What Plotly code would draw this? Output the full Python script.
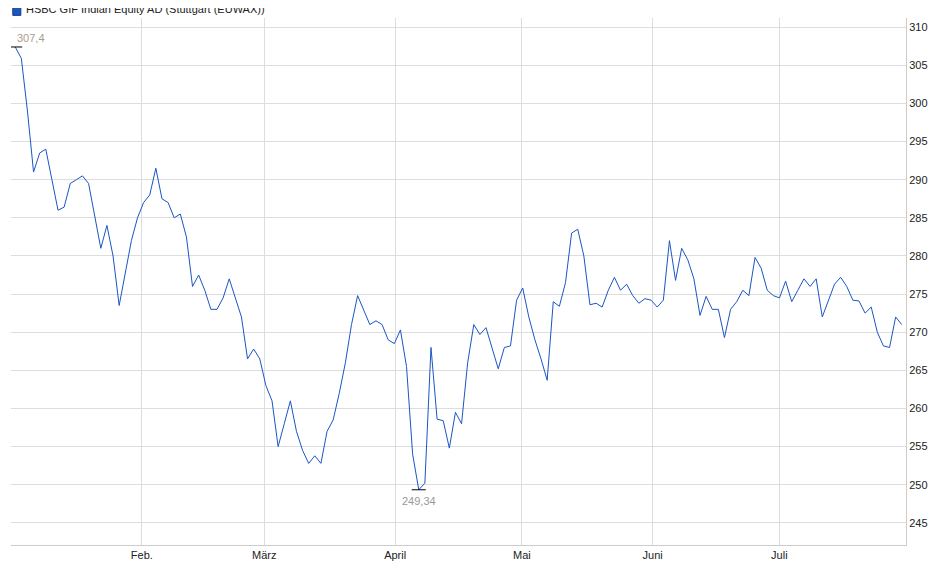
import pandas as pd
import plotly.graph_objects as go

prices = [
    307.4, 305.9, 299.0, 291.0, 293.5, 294.0, 290.0, 286.0, 286.4, 289.5,
    290.0, 290.5, 289.5, 285.0, 281.0, 284.0, 280.0, 273.5, 278.0, 282.0,
    285.0, 287.0, 288.0, 291.5, 287.5, 287.0, 285.0, 285.5, 282.5, 276.0,
    277.5, 275.5, 273.0, 273.0, 274.5, 277.0, 274.5, 272.0, 266.5, 267.8,
    266.5, 263.0, 261.0, 255.0, 258.0, 261.0, 257.0, 254.5, 252.8, 253.8,
    252.8, 257.0, 258.5, 262.0, 266.0, 271.0, 274.8, 273.0, 271.0, 271.5,
    271.0, 269.0, 268.5, 270.3, 265.5, 254.0, 249.34, 250.2, 268.0, 258.6,
    258.4, 254.8, 259.5, 258.0, 266.0, 271.0, 269.7, 270.6, 268.0, 265.2,
    268.0, 268.2, 274.2, 275.8, 272.0, 269.0, 266.5, 263.7, 274.0, 273.4,
    276.5, 283.0, 283.5, 280.0, 273.6, 273.8, 273.3, 275.5, 277.2, 275.5,
    276.3, 274.8, 273.8, 274.4, 274.2, 273.3, 274.2, 282.0, 276.8, 281.0,
    279.5, 277.0, 272.2, 274.7, 273.0, 273.0, 269.3, 273.0, 274.0, 275.5,
    274.8, 279.8, 278.4, 275.5, 274.8, 274.5, 276.7, 274.0, 275.5, 277.0,
    276.0, 277.0, 272.0, 274.2, 276.3, 277.2, 276.0, 274.2, 274.1, 272.5,
    273.3, 270.0, 268.2, 268.0, 272.0, 271.0,
]
# trading days, drawn evenly spaced over the period
dates = pd.date_range("2024-01-02", "2024-07-30", periods=len(prices))
tick_dates = ["2024-02-01", "2024-03-01", "2024-04-01", "2024-05-01", "2024-06-01", "2024-07-01"]
tick_labels = ["Feb.", "März", "April", "Mai", "Juni", "Juli"]
title = "HSBC GIF Indian Equity AD (Stuttgart (EUWAX))"

s = pd.Series(prices, index=dates)
hi_d, lo_d = s.idxmax(), s.idxmin()

fig = go.Figure()
fig.add_trace(go.Scatter(x=dates, y=prices, mode="lines",
                         line=dict(color="#1a56c4", width=1), hoverinfo="x+y"))
fig.add_trace(go.Scatter(x=[hi_d, lo_d], y=[s.max(), s.min()], mode="markers",
                         marker=dict(symbol="line-ew-open", size=10, color="black",
                                     line=dict(color="black", width=1)),
                         hoverinfo="skip"))

def fmt(v):
    return f"{v:g}".replace(".", ",")

fig.add_annotation(x=hi_d, y=s.max(), text=fmt(s.max()), showarrow=False,
                   xanchor="left", yanchor="bottom", yshift=1,
                   font=dict(color="#a89c8c", size=11))
fig.add_annotation(x=lo_d, y=s.min(), text=fmt(s.min()), showarrow=False,
                   yanchor="top", yshift=-3,
                   font=dict(color="#999999", size=11))
fig.add_annotation(xref="paper", yref="paper", x=0.014, y=1.0, yanchor="bottom",
                   xanchor="left", yshift=1, text=title, showarrow=False,
                   font=dict(color="#222", size=11))
fig.add_shape(type="rect", xref="paper", yref="paper", x0=0.002, x1=0.011,
              y0=1.005, y1=1.021, fillcolor="#1a56c4", line=dict(color="#1a3a80", width=1))

fig.update_layout(
    width=940, height=579,
    margin=dict(l=3, r=42, t=10, b=42, autoexpand=False),
    plot_bgcolor="white", paper_bgcolor="white",
    showlegend=False,
    font=dict(family="Liberation Sans, Arial", size=11, color="#222"),
    xaxis=dict(range=["2024-01-01", "2024-07-31"], tickvals=tick_dates,
               ticktext=tick_labels, showgrid=True, gridcolor="#dddddd",
               showline=True, linecolor="#cccccc", ticks="", zeroline=False),
    yaxis=dict(side="right", range=[242.1, 311.2], dtick=5, tick0=245,
               showgrid=True, gridcolor="#dddddd", showline=True,
               linecolor="#cccccc", zeroline=False, ticks=""),
)
fig.write_html("out.html")
